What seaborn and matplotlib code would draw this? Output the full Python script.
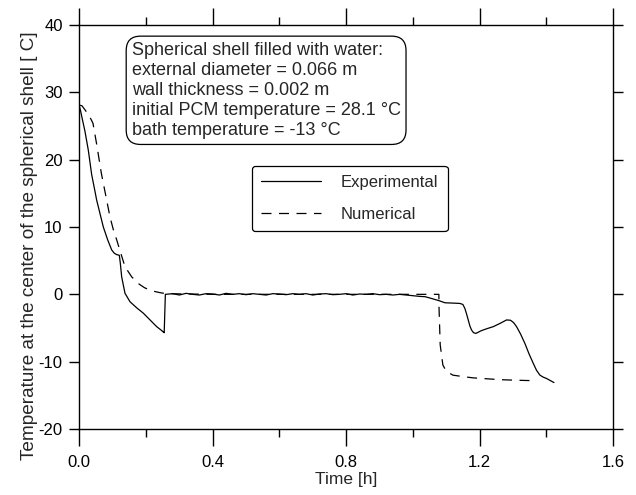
import matplotlib
matplotlib.use("Agg")
import matplotlib.pyplot as plt
import seaborn as sns
import pandas as pd
from matplotlib.ticker import MultipleLocator

# experimental curve, temperature at the shell centre
exp_time = [0.0, 0.004, 0.010, 0.017, 0.027, 0.037, 0.045, 0.052, 0.062, 0.072,
            0.085, 0.097, 0.105, 0.112, 0.120, 0.123, 0.127, 0.137, 0.152, 0.172,
            0.192, 0.212, 0.232, 0.245, 0.252, 0.2545,
            0.258, 0.28, 0.30, 0.32, 0.34, 0.36, 0.38, 0.40, 0.42, 0.44, 0.46,
            0.48, 0.50, 0.52, 0.54, 0.56, 0.58, 0.60, 0.62, 0.64, 0.66, 0.68,
            0.70, 0.72, 0.74, 0.76, 0.78, 0.80, 0.82, 0.84, 0.86, 0.88, 0.90,
            0.92, 0.94, 0.96, 0.98, 1.00, 1.02, 1.037, 1.055, 1.079, 1.096,
            1.12, 1.141, 1.150, 1.156, 1.161, 1.166, 1.171, 1.176, 1.182, 1.189,
            1.205, 1.222, 1.241, 1.262, 1.281, 1.293, 1.302, 1.311, 1.323, 1.336,
            1.348, 1.361, 1.371, 1.381, 1.391, 1.401, 1.412, 1.423]
exp_temp = [28.0, 27.2, 25.8, 24.2, 21.4, 17.8, 15.8, 14.0, 12.0, 10.0,
            8.1, 6.6, 6.1, 5.9, 5.8, 4.6, 2.6, 0.15, -1.1, -2.0,
            -2.8, -3.8, -4.8, -5.3, -5.6, -5.7,
            0.0, 0.1, -0.1, 0.15, 0.0, -0.1, 0.1, 0.05, -0.1, 0.15, 0.0,
            0.1, -0.05, 0.1, 0.0, -0.1, 0.1, 0.05, -0.05, 0.1, 0.0, 0.1,
            -0.1, 0.05, 0.1, -0.05, 0.0, 0.1, -0.1, 0.05, 0.0, 0.1, -0.05,
            0.0, -0.1, 0.0, -0.1, -0.2, -0.3, -0.35, -0.6, -0.95, -1.25,
            -1.3, -1.35, -1.5, -2.1, -2.9, -3.8, -4.7, -5.3, -5.7, -5.8,
            -5.4, -5.1, -4.8, -4.3, -3.8, -3.85, -4.2, -4.8, -5.9, -7.3,
            -8.8, -10.25, -11.3, -12.0, -12.3, -12.5, -12.8, -13.1]

# numerical curve
num_time = [0.0, 0.008, 0.017, 0.030, 0.041, 0.052, 0.066, 0.080, 0.092, 0.102,
            0.112, 0.125, 0.137, 0.157, 0.177, 0.195, 0.212, 0.228, 0.242, 0.26,
            0.40, 0.60, 0.80, 1.00, 1.078, 1.0785, 1.082, 1.09, 1.10, 1.12,
            1.148, 1.18, 1.21, 1.24, 1.276, 1.31, 1.345, 1.37]
num_temp = [28.1, 28.0, 27.4, 26.5, 25.4, 22.3, 18.0, 14.5, 11.5, 9.6,
            8.1, 6.0, 4.1, 2.6, 1.6, 1.0, 0.6, 0.4, 0.25, 0.1,
            0.0, 0.0, 0.0, 0.0, 0.0, -2.0, -7.5, -10.5, -11.4, -12.0,
            -12.2, -12.4, -12.5, -12.6, -12.7, -12.75, -12.8, -12.8]

x_ticks = [0.0, 0.4, 0.8, 1.2, 1.6]
y_ticks = [-20, -10, 0, 10, 20, 30, 40]

info_lines = ["Spherical shell filled with water:",
              "external diameter = 0.066 m",
              "wall thickness = 0.002 m",
              "initial PCM temperature = 28.1 \u00b0C",
              "bath temperature = -13 \u00b0C"]

exp_df = pd.DataFrame({"time": exp_time, "temp": exp_temp})
num_df = pd.DataFrame({"time": num_time, "temp": num_temp})

sns.set_style("ticks")
plt.rcParams["font.family"] = ["Liberation Sans", "DejaVu Sans"]
plt.rcParams["axes.unicode_minus"] = False

fig = plt.figure(figsize=(6.36, 4.95), dpi=100)
ax = fig.add_axes([0.1247, 0.1333, 0.8391, 0.8162])

sns.lineplot(data=exp_df, x="time", y="temp", sort=False, estimator=None,
             color="black", lw=0.9, label="Experimental", ax=ax)
sns.lineplot(data=num_df, x="time", y="temp", sort=False, estimator=None,
             color="black", lw=0.9, label="Numerical", ax=ax)
ax.lines[1].set_dashes([8, 6])

ax.set_xlim(0, 1.6)
ax.set_ylim(-20, 40)
ax.set_xticks(x_ticks)
ax.set_yticks(y_ticks)
ax.xaxis.set_minor_locator(MultipleLocator(0.2))
ax.set_xticklabels([f"{v:.1f}" for v in x_ticks])
for s in ax.spines.values():
    s.set_visible(True)
    s.set_linewidth(1.0)
    s.set_color("black")
ax.tick_params(which="both", direction="out", top=True, right=True,
               colors="black", labelsize=12, width=1.0)
ax.tick_params(axis="x", which="major", length=12, pad=7)
ax.tick_params(axis="x", which="minor", length=6)
ax.tick_params(axis="y", which="major", length=7, pad=5)

ax.set_xlabel("Time [h]", fontsize=12.5, labelpad=1)
ax.set_ylabel("Temperature at the center of the spherical shell [ C]",
              fontsize=13.7)
ax.yaxis.set_label_coords(-0.078, 0.455)

ax.text(0.098, 0.959, "\n".join(info_lines), transform=ax.transAxes,
        fontsize=13, va="top", ha="left", linespacing=1.24,
        bbox=dict(boxstyle="round,pad=0.3,rounding_size=0.8",
                  fc="white", ec="black", lw=0.9))

leg = ax.legend(loc="upper left", bbox_to_anchor=(0.323, 0.651),
                borderaxespad=0, handlelength=3.6, handletextpad=1.2,
                labelspacing=1.0, borderpad=0.55, fontsize=12, frameon=True,
                fancybox=True, framealpha=1, edgecolor="black")
leg.get_frame().set_linewidth(0.9)

fig.savefig("out.png", dpi=100)
